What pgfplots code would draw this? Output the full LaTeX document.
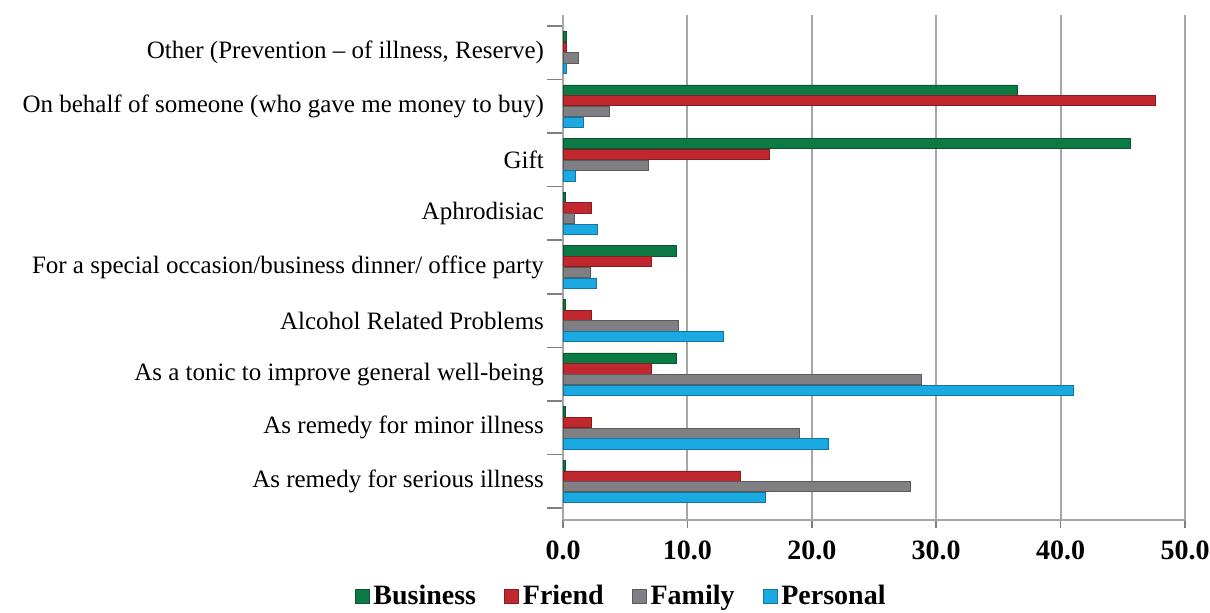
\documentclass[border=0pt]{standalone}
\usepackage{fontspec}
\setmainfont{Liberation Serif}
\usepackage{pgfplots}
\pgfplotsset{compat=1.18}
\definecolor{cbus}{HTML}{0B7A45}
\definecolor{cfri}{HTML}{C0282D}
\definecolor{cfam}{HTML}{808084}
\definecolor{cper}{HTML}{1BA9E1}
\begin{document}
\begin{tikzpicture}
\useasboundingbox (0,0) rectangle (605pt,306.5pt);
\begin{axis}[
    at={(281.5pt,46.5pt)}, anchor=south west,
    scale only axis,
    width=311pt, height=252.5pt,
    xbar, bar width=0.19,
    y dir=reverse,
    xmin=0, xmax=50,
    ymin=-0.7, ymax=8.72,
    xtick={0,10,...,50},
    ytick={0,...,8},
    yticklabels={
        Other (Prevention – of illness{,} Reserve),
        On behalf of someone (who gave me money to buy),
        Gift,
        Aphrodisiac,
        For a special occasion/business dinner/ office party,
        Alcohol Related Problems,
        As a tonic to improve general well-being,
        As remedy for minor illness,
        As remedy for serious illness},
    minor ytick={-0.5,0.5,...,8.5},
    major y tick style={draw=none},
    minor y tick style={gray, thick},
    minor tick length=8pt,
    tick align=outside,
    x tick style={gray, thick},
    major tick length=4pt,
    xmajorgrids,
    grid style={gray!70, line width=1pt},
    axis x line*=bottom, axis y line*=left,
    axis line style={gray!70, line width=1pt},
    xticklabel style={font=\fontsize{14}{15}\selectfont\bfseries, yshift=-3pt},
    /pgf/number format/.cd, fixed, fixed zerofill, precision=1, assume math mode=true,
    /pgfplots/.cd,
    yticklabel style={font=\fontsize{12.5}{13}\selectfont, xshift=-2pt},
    legend style={draw=none, font=\fontsize{14}{15}\selectfont\bfseries,
        at={(0.095,-0.152)}, anchor=center, legend columns=4,
        /tikz/every even column/.append style={column sep=12pt}},
    legend image code/.code={\fill[#1] (0pt,-3.5pt) rectangle (7pt,3.5pt);},
]
\addplot[fill=cbus, draw=cbus!70!black, bar shift=-0.3] coordinates {
    (0.3,0) (36.5,1) (45.6,2) (0.2,3) (9.1,4) (0.2,5) (9.1,6) (0.2,7) (0.2,8)};
\addlegendentry{Business}
\addplot[fill=cfri, draw=cfri!70!black, bar shift=-0.1] coordinates {
    (0.3,0) (47.6,1) (16.6,2) (2.3,3) (7.1,4) (2.3,5) (7.1,6) (2.3,7) (14.3,8)};
\addlegendentry{Friend}
\addplot[fill=cfam, draw=cfam!70!black, bar shift=0.1] coordinates {
    (1.2,0) (3.7,1) (6.9,2) (0.9,3) (2.2,4) (9.3,5) (28.8,6) (19.0,7) (27.9,8)};
\addlegendentry{Family}
\addplot[fill=cper, draw=cper!70!black, bar shift=0.3] coordinates {
    (0.3,0) (1.6,1) (1.0,2) (2.8,3) (2.7,4) (12.9,5) (41.0,6) (21.3,7) (16.3,8)};
\addlegendentry{Personal}
\end{axis}
\end{tikzpicture}
\end{document}
